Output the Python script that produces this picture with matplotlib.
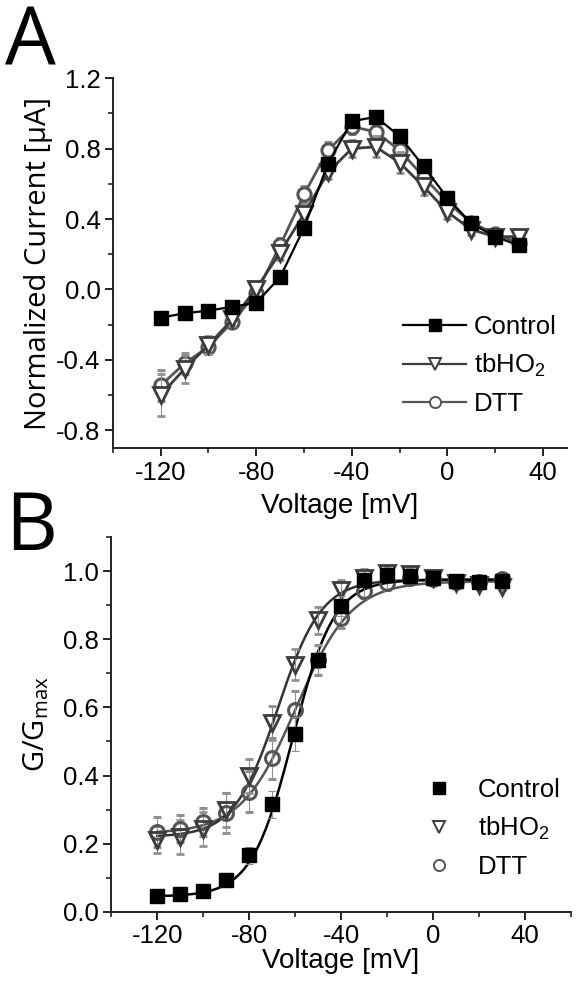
import numpy as np
import matplotlib
matplotlib.use('Agg')
import matplotlib.pyplot as plt
from matplotlib.lines import Line2D
from matplotlib.ticker import MultipleLocator, FormatStrFormatter

plt.rcParams['font.family'] = ['Liberation Sans', 'DejaVu Sans']
plt.rcParams['axes.unicode_minus'] = False

# voltage steps (mV)
volt = [-120, -110, -100, -90, -80, -70, -60, -50, -40, -30, -20, -10, 0, 10, 20, 30]

# Panel A: normalized current
ctrlA = [-0.16, -0.135, -0.12, -0.098, -0.075, 0.07, 0.35, 0.715, 0.955, 0.98, 0.87, 0.70, 0.52, 0.375, 0.30, 0.25]
tbA = [-0.60, -0.45, -0.315, -0.17, 0.005, 0.21, 0.43, 0.665, 0.80, 0.81, 0.72, 0.585, 0.44, 0.34, 0.30, 0.30]
dttA = [-0.545, -0.42, -0.325, -0.185, -0.02, 0.25, 0.54, 0.79, 0.925, 0.895, 0.79, 0.64, 0.495, 0.38, 0.315, 0.265]
ctrlA_err = [0.02, 0.02, 0.02, 0.02, 0.02, 0.02, 0.03, 0.03, 0.03, 0.03, 0.03, 0.03, 0.02, 0.02, 0.02, 0.02]
tbA_err = [0.12, 0.08, 0.05, 0.04, 0.04, 0.04, 0.04, 0.04, 0.05, 0.06, 0.06, 0.05, 0.04, 0.03, 0.03, 0.03]
dttA_err = [0.09, 0.06, 0.04, 0.03, 0.04, 0.04, 0.05, 0.05, 0.04, 0.04, 0.04, 0.04, 0.03, 0.02, 0.02, 0.02]

# Panel B: G/Gmax
ctrlB = [0.048, 0.051, 0.061, 0.093, 0.166, 0.316, 0.521, 0.739, 0.898, 0.974, 0.99, 0.985, 0.98, 0.972, 0.969, 0.972]
tbB = [0.212, 0.219, 0.244, 0.298, 0.40, 0.554, 0.725, 0.856, 0.944, 0.981, 0.995, 0.991, 0.981, 0.966, 0.959, 0.954]
dttB = [0.234, 0.244, 0.264, 0.29, 0.352, 0.451, 0.593, 0.739, 0.863, 0.941, 0.966, 0.979, 0.976, 0.969, 0.969, 0.976]
ctrlB_err = [0.01, 0.01, 0.01, 0.02, 0.025, 0.04, 0.05, 0.04, 0.03, 0.02, 0.01, 0.01, 0.01, 0.01, 0.01, 0.01]
tbB_err = [0.04, 0.05, 0.05, 0.05, 0.05, 0.05, 0.045, 0.04, 0.03, 0.025, 0.02, 0.02, 0.01, 0.01, 0.01, 0.01]
dttB_err = [0.045, 0.04, 0.04, 0.06, 0.06, 0.06, 0.055, 0.045, 0.03, 0.02, 0.02, 0.015, 0.01, 0.01, 0.01, 0.01]

# Boltzmann fit parameters (bottom, top, V1/2, slope)
ctrlFit = [0.045, 0.975, -61.0, 9.0]
tbFit = [0.22, 0.975, -67.5, 9.5]
dttFit = [0.23, 0.97, -59.5, 12.0]

labels = ['Control', r'tbHO$\mathregular{_2}$', 'DTT']
tickFont = 18.5
labelFont = 20
legFont = 18.5


def boltzmann(v, a1, a2, v0, dv):
    return a2 + (a1 - a2) / (1 + np.exp((v - v0) / dv))


def style_axes(ax):
    for s in ['top', 'right']:
        ax.spines[s].set_visible(False)
    for s in ['left', 'bottom']:
        ax.spines[s].set_linewidth(1.4)
        ax.spines[s].set_color('#222222')
    ax.tick_params(which='major', direction='out', length=6, width=1.4, labelsize=tickFont, pad=3, color='#222222')
    ax.tick_params(which='minor', direction='out', length=3.5, width=1.2, color='#222222')
    ax.xaxis.set_major_locator(MultipleLocator(40))
    ax.xaxis.set_minor_locator(MultipleLocator(20))
    ax.xaxis.set_major_formatter(FormatStrFormatter('%d'))


fig = plt.figure(figsize=(5.82, 9.89), dpi=100)
eb = dict(ecolor='#909090', elinewidth=0.8, capsize=3, capthick=0.8)

############
## Panel A #
############
axA = fig.add_axes([0.194, 0.547, 0.780, 0.374])
style_axes(axA)
axA.errorbar(volt, dttA, yerr=dttA_err, color='#555555', lw=2.0, marker='o', ms=9.5,
             mfc='white', mec='#555555', mew=2.2, zorder=2, **eb)
axA.errorbar(volt, tbA, yerr=tbA_err, color='#3c3c3c', lw=2.0, marker='v', ms=12,
             mfc='white', mec='#3c3c3c', mew=2.0, zorder=3, **eb)
axA.errorbar(volt, ctrlA, yerr=ctrlA_err, color='black', lw=1.6, marker='s', ms=10,
             mfc='black', mec='black', zorder=4, **eb)
axA.set_xlim(-140, 50)
axA.set_ylim(-0.9, 1.2)
axA.yaxis.set_major_locator(MultipleLocator(0.4))
axA.yaxis.set_minor_locator(MultipleLocator(0.2))
axA.yaxis.set_major_formatter(FormatStrFormatter('%.1f'))
axA.set_xlabel('Voltage [mV]', fontsize=labelFont, labelpad=6)
axA.set_ylabel('Normalized Current [µA]', fontsize=21, family='Open Sans', labelpad=2)
hA = [Line2D([], [], color='black', lw=1.6, marker='s', ms=8, mfc='black', mec='black'),
      Line2D([], [], color='#3c3c3c', lw=1.6, marker='v', ms=9, mfc='white', mec='#3c3c3c', mew=1.4),
      Line2D([], [], color='#555555', lw=1.6, marker='o', ms=8, mfc='white', mec='#555555', mew=1.4)]
axA.legend(hA, labels, loc='lower right', bbox_to_anchor=(1.0, 0.06), frameon=False,
           fontsize=legFont, handlelength=2.45, handletextpad=0.3, labelspacing=0.5, borderaxespad=0)

############
## Panel B #
############
axB = fig.add_axes([0.191, 0.078, 0.790, 0.379])
style_axes(axB)
vs = np.linspace(-120, 30, 300)
axB.plot(vs, boltzmann(vs, *dttFit), color='#555555', lw=1.8, zorder=2)
axB.plot(vs, boltzmann(vs, *tbFit), color='#333333', lw=1.8, zorder=2)
axB.plot(vs, boltzmann(vs, *ctrlFit), color='black', lw=1.8, zorder=2)
axB.errorbar(volt, dttB, yerr=dttB_err, ls='none', marker='o', ms=10, mfc='none',
             mec='#555555', mew=2.2, zorder=3, **eb)
axB.errorbar(volt, tbB, yerr=tbB_err, ls='none', marker='v', ms=12, mfc='none',
             mec='#3c3c3c', mew=2.0, zorder=3, **eb)
axB.errorbar(volt, ctrlB, yerr=ctrlB_err, ls='none', marker='s', ms=10, mfc='black',
             mec='black', zorder=4, **eb)
axB.set_xlim(-140, 60)
axB.set_ylim(0, 1.1)
axB.yaxis.set_major_locator(MultipleLocator(0.2))
axB.yaxis.set_minor_locator(MultipleLocator(0.1))
axB.yaxis.set_major_formatter(FormatStrFormatter('%.1f'))
axB.set_xlabel('Voltage [mV]', fontsize=labelFont, labelpad=0)
axB.set_ylabel(r'G/G$\mathregular{_{max}}$', fontsize=21, family='Open Sans', labelpad=8)
hB = [Line2D([], [], ls='none', marker='s', ms=8, mfc='black', mec='black'),
      Line2D([], [], ls='none', marker='v', ms=9, mfc='none', mec='#3c3c3c', mew=1.4),
      Line2D([], [], ls='none', marker='o', ms=8, mfc='none', mec='#555555', mew=1.4)]
axB.legend(hB, labels, loc='lower right', bbox_to_anchor=(1.0, 0.06), frameon=False,
           fontsize=legFont, handlelength=2.0, handletextpad=0.5, labelspacing=0.5, borderaxespad=0)

fig.text(0.008, 0.935, 'A', fontsize=58, family='Open Sans', va='baseline', ha='left')
fig.text(0.008, 0.444, 'B', fontsize=58, family='Open Sans', va='baseline', ha='left')

fig.savefig('out.png', dpi=100)
